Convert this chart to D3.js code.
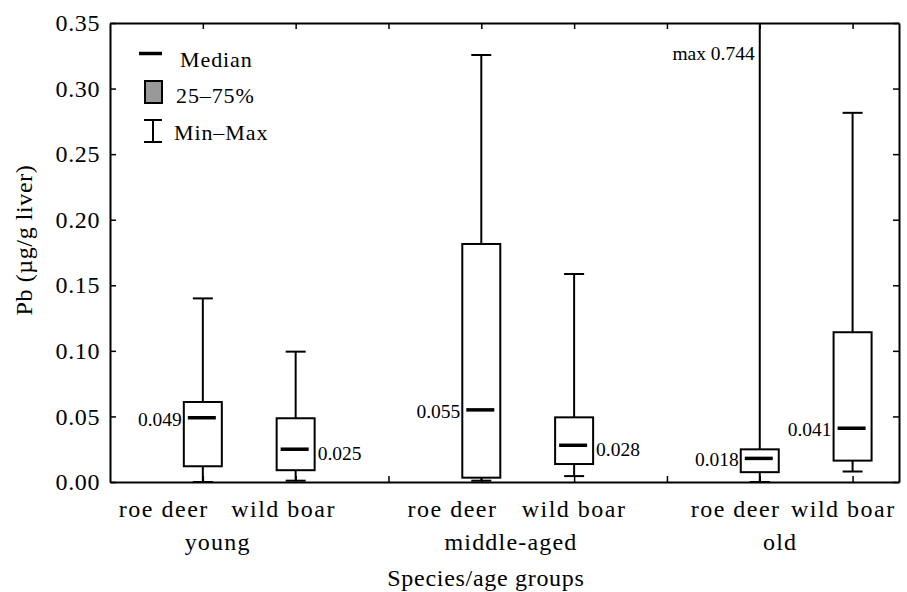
<!DOCTYPE html>
<html>
<head>
<meta charset="utf-8">
<script src="https://cdn.jsdelivr.net/npm/d3@7"></script>
<style>
  body { margin: 0; background: #fff; }
</style>
</head>
<body>
<svg id="chart" width="907" height="592"></svg>
<script>
// box positions on the x scale, separators between age groups at 3 and 6
const species = ['roe deer', 'wild boar', 'roe deer', 'wild boar', 'roe deer', 'wild boar'];
const ageGroups = ['young', 'middle-aged', 'old'];
const slot = [1, 2, 4, 5, 7, 8];
const mins = [0.000, 0.001, 0.001, 0.0045, 0.000, 0.008];
const q1s = [0.012, 0.009, 0.0033, 0.0137, 0.0075, 0.0163];
const medians = [0.049, 0.025, 0.055, 0.028, 0.018, 0.041];
const q3s = [0.061, 0.0486, 0.1815, 0.0493, 0.0249, 0.1142];
const maxs = [0.140, 0.0994, 0.3256, 0.1586, 0.744, 0.2815];
const medLabels = ['0.049', '0.025', '0.055', '0.028', '0.018', '0.041'];
const yTicks = [0, 0.05, 0.10, 0.15, 0.20, 0.25, 0.30, 0.35];

// layout only: where labels sit
const labelSide = ['left', 'right', 'left', 'right', 'left', 'left'];
const speciesLabelX = [0.58, 1.87, 3.69, 5.0, 6.74, 7.9];
const ageLabelX = [1.16, 4.32, 7.22];

const FONT = '"Liberation Serif", "Times New Roman", serif';
const svg = d3.select('#chart');
const m = { left: 110, right: 8, top: 23, bottom: 110 };
const W = 907, H = 592;

const x = d3.scaleLinear().domain([0, 8.5]).range([m.left, W - m.right]);
const y = d3.scaleLinear().domain([0, 0.35]).range([H - m.bottom, m.top]);

svg.append('defs').append('clipPath').attr('id', 'plot')
  .append('rect').attr('x', x(0)).attr('y', y(0.35))
  .attr('width', x(8.5) - x(0)).attr('height', y(0) - y(0.35));

// axes with inward ticks
svg.append('g').attr('transform', `translate(${x(0)},0)`)
  .call(d3.axisLeft(y).tickValues(yTicks).tickFormat(d3.format('.2f')).tickSizeInner(-6).tickSizeOuter(0).tickPadding(10))
  .call(g => g.selectAll('text').style('font-family', FONT).style('font-size', '24px').style('letter-spacing', '0.6px'));
svg.append('g').attr('transform', `translate(${x(8.5)},0)`)
  .call(d3.axisRight(y).tickValues(yTicks).tickFormat('').tickSizeInner(-6).tickSizeOuter(0));
svg.append('g').attr('transform', `translate(0,${y(0.35)})`)
  .call(d3.axisTop(x).tickValues(d3.range(1, 9)).tickFormat('').tickSizeInner(-6).tickSizeOuter(0));
svg.append('g').attr('transform', `translate(0,${y(0)})`)
  .call(d3.axisBottom(x).tickValues(d3.range(1, 9)).tickFormat('').tickSizeInner(-6).tickSizeOuter(0));
svg.selectAll('.domain').attr('stroke-width', 2);
svg.selectAll('.tick line').attr('stroke-width', 1.5);

// boxes
const boxW = 38, capW = 20;
const plot = svg.append('g').attr('clip-path', 'url(#plot)');
const bx = plot.selectAll('g.box').data(slot).join('g').attr('class', 'box');
bx.append('line')
  .attr('x1', d => x(d)).attr('x2', d => x(d))
  .attr('y1', (d, i) => y(maxs[i])).attr('y2', (d, i) => y(mins[i]))
  .attr('stroke', '#000').attr('stroke-width', 2);
bx.append('line')
  .attr('x1', d => x(d) - capW / 2).attr('x2', d => x(d) + capW / 2)
  .attr('y1', (d, i) => y(maxs[i])).attr('y2', (d, i) => y(maxs[i]))
  .attr('stroke', '#000').attr('stroke-width', 2);
bx.append('line')
  .attr('x1', d => x(d) - capW / 2).attr('x2', d => x(d) + capW / 2)
  .attr('y1', (d, i) => y(mins[i])).attr('y2', (d, i) => y(mins[i]))
  .attr('stroke', '#000').attr('stroke-width', 2);
bx.append('rect')
  .attr('x', d => x(d) - boxW / 2).attr('width', boxW)
  .attr('y', (d, i) => y(q3s[i])).attr('height', (d, i) => y(q1s[i]) - y(q3s[i]))
  .attr('fill', '#fff').attr('stroke', '#000').attr('stroke-width', 2);
bx.append('line')
  .attr('x1', d => x(d) - 15).attr('x2', d => x(d) + 13)
  .attr('y1', (d, i) => y(medians[i])).attr('y2', (d, i) => y(medians[i]))
  .attr('stroke', '#000').attr('stroke-width', 3.5);

// median labels
svg.selectAll('text.med').data(slot).join('text').attr('class', 'med')
  .attr('x', (d, i) => labelSide[i] === 'left' ? x(d) - boxW / 2 - 2 : x(d) + boxW / 2 + 3)
  .attr('y', (d, i) => y(medians[i]) + (labelSide[i] === 'left' ? 1 : 4))
  .attr('dy', '0.35em')
  .attr('text-anchor', (d, i) => labelSide[i] === 'left' ? 'end' : 'start')
  .style('font-family', FONT).style('font-size', '19.5px')
  .text((d, i) => medLabels[i]);

svg.append('text').attr('x', x(7) - 5).attr('y', 53).attr('dy', '0.35em')
  .attr('text-anchor', 'end').style('font-family', FONT).style('font-size', '19.5px')
  .text('max ' + d3.format('.3f')(maxs[4]));

// category labels
svg.selectAll('text.sp').data(species).join('text').attr('class', 'sp')
  .attr('x', (d, i) => x(speciesLabelX[i])).attr('y', 509).attr('dy', '0.35em')
  .attr('text-anchor', 'middle').style('font-family', FONT).style('font-size', '24px').style('letter-spacing', '1.5px')
  .text(d => d);
svg.selectAll('text.age').data(ageGroups).join('text').attr('class', 'age')
  .attr('x', (d, i) => x(ageLabelX[i])).attr('y', 542).attr('dy', '0.35em')
  .attr('text-anchor', 'middle').style('font-family', FONT).style('font-size', '24px').style('letter-spacing', '1.2px')
  .text(d => d);
svg.append('text').attr('x', x(4.05)).attr('y', 578).attr('dy', '0.35em')
  .attr('text-anchor', 'middle').style('font-family', FONT).style('font-size', '24px').style('letter-spacing', '0.7px')
  .text('Species/age groups');
svg.append('text').attr('transform', 'translate(24,240) rotate(-90)')
  .attr('dy', '0.35em').attr('text-anchor', 'middle').style('font-family', FONT).style('font-size', '24px')
  .style('letter-spacing', '0.6px')
  .text('Pb (µg/g liver)');

// legend
const lg = svg.append('g').style('font-family', FONT).style('font-size', '22px').style('letter-spacing', '0.9px');
lg.append('line').attr('x1', 139).attr('x2', 162).attr('y1', 53.5).attr('y2', 53.5)
  .attr('stroke', '#000').attr('stroke-width', 3.5);
lg.append('text').attr('x', 180).attr('y', 66.5).text('Median');
lg.append('rect').attr('x', 145).attr('y', 81).attr('width', 17).attr('height', 22)
  .attr('fill', '#999').attr('stroke', '#000').attr('stroke-width', 2);
lg.append('text').attr('x', 176).attr('y', 102.5).text('25–75%');
lg.append('path').attr('d', 'M144,120H162M153,120V142M144,142H162')
  .attr('stroke', '#000').attr('stroke-width', 2).attr('fill', 'none');
lg.append('text').attr('x', 174).attr('y', 140).text('Min–Max');
</script>
</body>
</html>
